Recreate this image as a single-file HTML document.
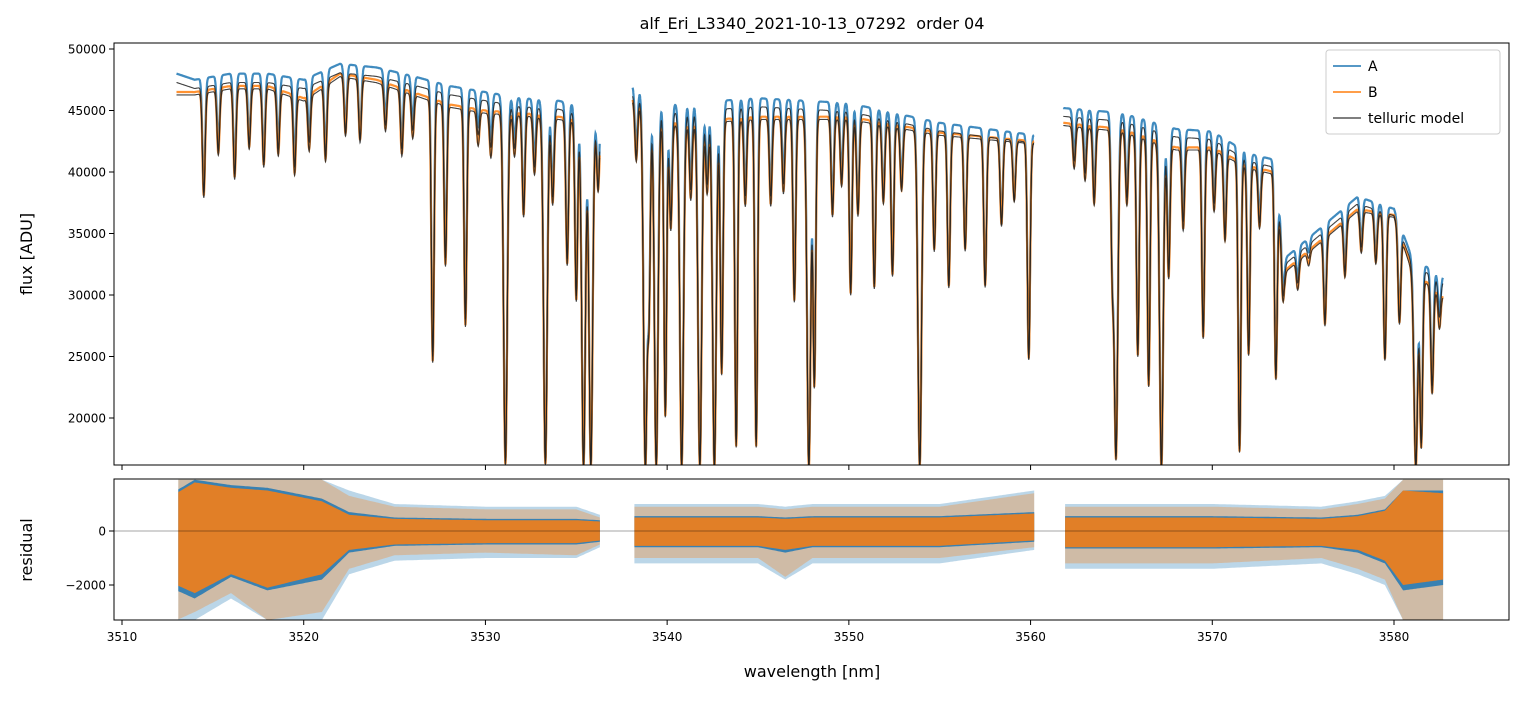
<!DOCTYPE html>
<html><head><meta charset="utf-8"><style>
body{margin:0;background:#fff;font-family:"Liberation Sans","DejaVu Sans",sans-serif;}
svg text{font-family:"DejaVu Sans","Liberation Sans",sans-serif;}
</style></head><body>
<svg id="chart" width="1523" height="696" xmlns="http://www.w3.org/2000/svg">
<defs>
<clipPath id="clipTop"><rect x="114" y="43" width="1395" height="422"/></clipPath>
<clipPath id="clipBot"><rect x="114" y="479" width="1395" height="141"/></clipPath>
</defs>
<rect width="1523" height="696" fill="#fff"/>
<text x="812" y="29" text-anchor="middle" font-size="16" style="white-space:pre">alf_Eri_L3340_2021-10-13_07292  order 04</text>
<g id="topPanel" clip-path="url(#clipTop)"></g>
<g id="botPanel" clip-path="url(#clipBot)"></g>
<g id="axes"></g>
<text transform="translate(32,254) rotate(-90)" text-anchor="middle" font-size="16">flux [ADU]</text>
<text transform="translate(32,550) rotate(-90)" text-anchor="middle" font-size="16">residual</text>
<text x="812" y="677" text-anchor="middle" font-size="16">wavelength [nm]</text>
<g>
<rect x="1326" y="50" width="174" height="84" rx="3" fill="#fff" fill-opacity="0.85" stroke="#ccc"/>
<line x1="1333" y1="66" x2="1361" y2="66" stroke="#1f77b4" stroke-width="1.5"/>
<text x="1368" y="71" font-size="14">A</text>
<line x1="1333" y1="92" x2="1361" y2="92" stroke="#ff7f0e" stroke-width="1.5"/>
<text x="1368" y="97" font-size="14">B</text>
<line x1="1333" y1="118" x2="1361" y2="118" stroke="#555" stroke-width="1.5"/>
<text x="1368" y="123" font-size="14">telluric model</text>
</g>
</svg>
<script>
const contWl=[3513,3514,3516,3518,3520,3522,3524,3526,3528,3530,3532,3534,3536.3,3538.1,3540,3545,3550,3555,3560.2,3561.8,3565,3568,3570,3572,3573.4,3574,3576,3578,3580,3581,3582.7];
const contA=[48000,47500,48000,48000,47500,48800,48500,47800,47000,46500,46000,45800,45000,47000,45500,46000,45600,44000,43000,45200,44800,43500,43300,41500,41000,33000,35500,38000,37000,33000,31500];
const contB=[46500,46500,47000,47000,46000,48000,47500,46500,45500,45000,44800,44500,44000,46000,44000,44500,44500,43200,42500,44000,43500,42000,42000,40500,40000,32000,34500,37000,36500,32000,30000];
const lineWl=[3514.5,3515.3,3516.2,3517.0,3517.8,3518.6,3519.5,3520.3,3521.2,3522.3,3523.1,3524.5,3525.4,3526.0,3527.1,3527.8,3528.9,3529.6,3530.3,3531.1,3531.6,3532.1,3532.7,3533.3,3533.7,3534.5,3535.0,3535.4,3535.8,3536.2,3538.3,3538.8,3539.0,3539.4,3539.9,3540.2,3540.8,3541.3,3541.8,3542.2,3542.6,3543.0,3543.8,3544.3,3544.9,3545.7,3546.4,3547.0,3547.8,3548.1,3549.1,3549.6,3550.1,3550.5,3551.4,3551.9,3552.4,3552.9,3553.9,3554.7,3555.5,3556.4,3557.5,3558.4,3559.1,3559.9,3562.4,3563.0,3563.5,3564.5,3564.7,3565.3,3565.9,3566.5,3567.2,3567.6,3568.4,3569.5,3570.1,3570.7,3571.5,3572.0,3572.6,3573.5,3573.9,3574.7,3575.3,3576.2,3577.3,3578.2,3579.0,3579.5,3580.3,3581.2,3581.5,3582.1,3582.5];
const lineMin=[38500,42000,40000,42500,41000,42000,40500,42500,41500,43500,43000,44000,42000,43500,25000,33000,28000,43000,42000,16500,42000,37000,40500,16500,38000,33000,30000,16200,16200,39000,41500,16200,30000,16200,20500,36000,16200,38500,16200,39000,16200,24000,18000,38000,18000,38000,39000,30000,16200,23000,37000,39500,30500,37000,31000,38000,32000,39000,16200,34000,31000,34000,31000,36000,38000,25000,41000,40000,38000,33000,17000,38000,25500,23000,16200,32000,36000,27000,37500,35000,17500,25500,36000,23500,30000,31000,33000,28000,32000,34000,33000,25000,28000,16200,18000,22500,28000];
const gaps=[[3536.3,3538.1],[3560.2,3561.8]];
const resWl=[3513,3514,3516,3518,3521,3522.5,3525,3530,3535,3536.3,3538.1,3545,3546.5,3548,3555,3560.2,3561.8,3570,3576,3578,3579.5,3580.5,3582.7];
const resAHi=[1900,1900,1900,1900,1900,1500,1000,900,900,600,1000,1000,900,1000,1000,1500,1000,1000,900,1100,1300,1900,1900];
const resALo=[3300,3300,2500,3300,3300,1600,1100,1000,1000,600,1200,1200,1800,1200,1200,700,1400,1400,1200,1600,2000,3300,3300];
const resBHi=[1900,1900,1900,1900,1900,1300,900,800,800,500,900,900,800,900,900,1400,900,900,800,1000,1200,1900,1900];
const resBLo=[3300,3000,2300,3300,3000,1400,900,800,900,500,1000,1000,1700,1000,1000,600,1200,1200,1000,1400,1800,3300,3300];
const resACoreHi=[1500,1900,1700,1600,1200,700,500,450,450,400,550,550,500,550,550,700,550,550,500,600,800,1500,1500];
const resACoreLo=[2200,2500,1700,2200,1800,800,550,500,500,400,600,600,800,600,600,400,650,650,600,800,1200,2200,2000];
const resBCoreHi=[1400,1800,1600,1500,1100,600,450,400,400,350,500,500,450,500,500,650,500,500,450,550,750,1500,1400];
const resBCoreLo=[2000,2300,1600,2100,1600,700,500,450,450,350,550,550,700,550,550,350,600,600,550,700,1100,2000,1800];
const xTicks=[3510,3520,3530,3540,3550,3560,3570,3580];
const yTicksTop=[20000,25000,30000,35000,40000,45000,50000];
const yTicksBot=[-2000,0];

const NS="http://www.w3.org/2000/svg";
const X=w=>122+(w-3510)*(1272/70);
const YT=v=>49+(50000-v)*(369/30000);
const YB=v=>531-v*(54/2000);
function interp(xs,ys,x){if(x<=xs[0])return ys[0];for(let i=1;i<xs.length;i++){if(x<=xs[i]){const t=(x-xs[i-1])/(xs[i]-xs[i-1]);return ys[i-1]+t*(ys[i]-ys[i-1]);}}return ys[ys.length-1];}
const inGap=w=>gaps.some(g=>w>g[0]&&w<g[1]);
function mk(tag,attrs,parent){const e=document.createElementNS(NS,tag);for(const k in attrs)e.setAttribute(k,attrs[k]);parent.appendChild(e);return e;}
function profile(w){let f=1;const cm=(interp(contWl,contA,w)+interp(contWl,contB,w))/2;for(let i=0;i<lineWl.length;i++){const d=w-lineWl[i];if(Math.abs(d)>0.6)continue;const depth=Math.min(1,1-lineMin[i]/cm);const s=lineMin[i]<=17000?0.1:0.075;f*=1-depth*Math.exp(-d*d/(2*s*s));}return f;}
function specPath(cont,scale){let p="",pen=false;for(let w=3513.0;w<=3582.7;w+=0.01){if(inGap(w)){pen=false;continue;}let v=interp(contWl,cont,w)*profile(w)*scale;v=Math.max(v,14000);p+=(pen?"L":"M")+X(w).toFixed(1)+" "+YT(v).toFixed(1);pen=true;}return p;}
const topG=document.getElementById('topPanel');
const pA=mk('path',{d:specPath(contA,1),fill:'none',stroke:'#1f77b4','stroke-width':2.2,'stroke-opacity':0.85},topG);


const pB=mk('path',{d:specPath(contB,1),fill:'none',stroke:'#ff7f0e','stroke-width':2.2,'stroke-opacity':0.85},topG);


const mA=mk('path',{d:specPath(contA,0.985),fill:'none',stroke:'#222','stroke-width':1.1,'stroke-opacity':0.85},topG);


const mB=mk('path',{d:specPath(contB,0.995),fill:'none',stroke:'#222','stroke-width':1.1,'stroke-opacity':0.85},topG);


function bandPath(hi,lo){let segs=[],cur=[];for(let w=3513.1;w<=3582.7;w+=0.1){if(inGap(w)){if(cur.length)segs.push(cur);cur=[];continue;}cur.push(w);}if(cur.length)segs.push(cur);let d="";segs.forEach(s=>{d+="M"+s.map(w=>X(w).toFixed(1)+" "+YB(interp(resWl,hi,w)).toFixed(1)).join("L");d+="L"+s.slice().reverse().map(w=>X(w).toFixed(1)+" "+YB(-interp(resWl,lo,w)).toFixed(1)).join("L")+"Z";});return d;}
const botG=document.getElementById('botPanel');
const sA=mk('path',{d:bandPath(resAHi,resALo),fill:'#1f77b4','fill-opacity':0.3},botG);


const sB=mk('path',{d:bandPath(resBHi,resBLo),fill:'#ff7f0e','fill-opacity':0.3},botG);


const rA=mk('path',{d:bandPath(resACoreHi,resACoreLo),fill:'#1f77b4','fill-opacity':0.85},botG);


const rB=mk('path',{d:bandPath(resBCoreHi,resBCoreLo),fill:'#ff7f0e','fill-opacity':0.85},botG);


mk('line',{x1:114,x2:1509,y1:YB(0),y2:YB(0),stroke:'#000','stroke-width':0.6,'stroke-opacity':0.7},botG);
const ax=document.getElementById('axes');
const f1=mk('rect',{x:114,y:43,width:1395,height:422,fill:'none',stroke:'#000','stroke-width':1},ax);


const f2=mk('rect',{x:114,y:479,width:1395,height:141,fill:'none',stroke:'#000','stroke-width':1},ax);


xTicks.forEach(t=>{const x=X(t);mk('line',{x1:x,x2:x,y1:465,y2:470,stroke:'#000'},ax);mk('line',{x1:x,x2:x,y1:620,y2:625,stroke:'#000'},ax);const tx=mk('text',{x:x,y:641,'text-anchor':'middle','font-size':12},ax);tx.textContent=t;

});
yTicksTop.forEach(t=>{const y=YT(t);mk('line',{x1:109,x2:114,y1:y,y2:y,stroke:'#000'},ax);const tx=mk('text',{x:106,y:y+4.5,'text-anchor':'end','font-size':12},ax);tx.textContent=t;

});
yTicksBot.forEach(t=>{const y=YB(t);mk('line',{x1:109,x2:114,y1:y,y2:y,stroke:'#000'},ax);const tx=mk('text',{x:106,y:y+4.5,'text-anchor':'end','font-size':12},ax);tx.textContent=t<0?'\u22122000':t;

});
</script>
</body></html>
